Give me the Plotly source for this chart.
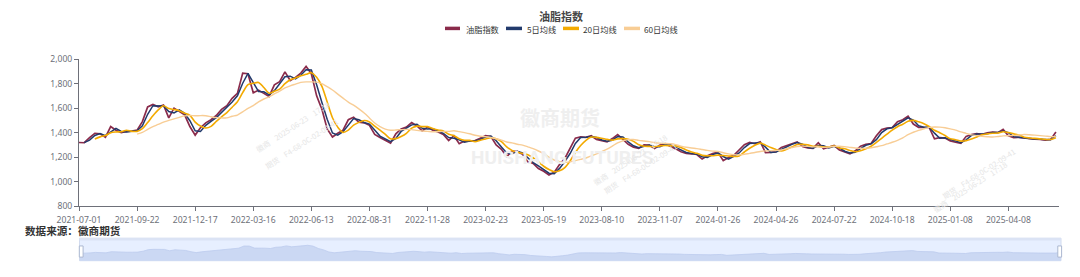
import pandas as pd
import plotly.graph_objects as go

# ---------------- data ----------------
TICK_DATES = ['2021-07-01', '2021-09-22', '2021-12-17', '2022-03-16', '2022-06-13',
              '2022-08-31', '2022-11-28', '2023-02-23', '2023-05-19', '2023-08-10',
              '2023-11-07', '2024-01-26', '2024-04-26', '2024-07-22', '2024-10-18',
              '2025-01-08', '2025-04-08']
END_DATE = '2025-06-20'

# 油脂指数, read roughly every 5 trading days
INDEX_VALUES = [
    1320, 1318, 1360, 1395, 1390, 1362, 1450, 1420, 1400, 1410, 1412,
    1420, 1490, 1610, 1630, 1610, 1625, 1520, 1600, 1570, 1545, 1450,
    1380, 1440, 1480, 1505, 1540, 1590, 1620, 1680, 1720, 1885, 1880,
    1725, 1745, 1720, 1695, 1790, 1815, 1895, 1825, 1850, 1885, 1940,
    1880, 1700, 1590, 1430, 1365, 1395, 1420, 1505, 1525, 1485, 1480,
    1460, 1385, 1360, 1340, 1315, 1390, 1430, 1445, 1482, 1455, 1415,
    1445, 1420, 1405, 1385, 1335, 1375, 1310, 1333, 1330, 1335, 1355,
    1375, 1368, 1300, 1265, 1205, 1250, 1245, 1225, 1162, 1150, 1108,
    1085, 1055, 1078, 1140, 1190, 1270, 1355, 1365, 1362, 1375, 1345,
    1335, 1325, 1352, 1385, 1345, 1305, 1282, 1272, 1300, 1298, 1272,
    1300, 1310, 1292, 1268, 1245, 1232, 1228, 1222, 1185, 1212, 1230,
    1240, 1172, 1198, 1215, 1255, 1302, 1320, 1310, 1326, 1238, 1240,
    1245, 1280, 1295, 1315, 1325, 1288, 1275, 1272, 1318, 1268, 1282,
    1295, 1258, 1240, 1228, 1252, 1290, 1305, 1312, 1375, 1425, 1438,
    1442, 1490, 1505, 1535, 1470, 1442, 1445, 1442, 1350, 1360, 1356,
    1333, 1322, 1313, 1370, 1385, 1392, 1386, 1398, 1404, 1400, 1426,
    1375, 1360, 1362, 1356, 1350, 1347, 1345, 1340, 1345, 1405,
]
Y_TICKS = [800, 1000, 1200, 1400, 1600, 1800, 2000]

SERIES_NAMES = ['油脂指数', '5日均线', '20日均线', '60日均线']
SERIES_COLORS = ['#8A2B4B', '#223A6C', '#F3AA00', '#F8CD95']

# sample dates: 11 samples between consecutive labelled dates, 10 in the tail
dates = []
for a, b in zip(TICK_DATES[:-1], TICK_DATES[1:]):
    bd = pd.bdate_range(a, b)
    for k in range(11):
        dates.append(bd[round(k * (len(bd) - 1) / 11)].strftime('%Y-%m-%d'))
bd = pd.bdate_range(TICK_DATES[-1], END_DATE)
for k in range(10):
    dates.append(bd[round(k * (len(bd) - 1) / 9)].strftime('%Y-%m-%d'))

s = pd.Series(INDEX_VALUES, index=dates, dtype=float)
ma5 = s.rolling(2).mean()
ma20 = s.rolling(4).mean()
ma60 = s.rolling(12).mean()

# ---------------- geometry helpers ----------------
PX_L, PX_R, PX_T, PX_B = 79, 1062, 59, 267
def fx(p):
    return (p - PX_L) / (PX_R - PX_L)
def fy(p):
    return (PX_B - p) / (PX_B - PX_T)

FONT = 'Noto Sans CJK SC, Noto Sans, sans-serif'
TICK_FONT = 'Noto Sans, Liberation Sans, sans-serif'
AX_COLOR = '#6E7079'

fig = go.Figure()
fig.add_trace(go.Scatter(x=dates, y=s.values, mode='lines', name=SERIES_NAMES[0],
                         line=dict(color=SERIES_COLORS[0], width=1.7)))
fig.add_trace(go.Scatter(x=dates, y=ma5.values, mode='lines', name=SERIES_NAMES[1],
                         line=dict(color=SERIES_COLORS[1], width=1.5)))
fig.add_trace(go.Scatter(x=dates, y=ma20.values, mode='lines', name=SERIES_NAMES[2],
                         line=dict(color=SERIES_COLORS[2], width=1.6, shape='spline', smoothing=0.8)))
fig.add_trace(go.Scatter(x=dates, y=ma60.values, mode='lines', name=SERIES_NAMES[3],
                         line=dict(color=SERIES_COLORS[3], width=1.4, shape='spline', smoothing=0.8)))
# data-zoom slider preview
fig.add_trace(go.Scatter(x=dates, y=s.values, mode='lines', xaxis='x2', yaxis='y2',
                         fill='tozeroy', fillcolor='#cbd8f3',
                         line=dict(color='#bccbee', width=0.8), hoverinfo='skip',
                         showlegend=False))

shapes = []
# slider frame
shapes.append(dict(type='rect', xref='paper', yref='paper', x0=fx(79.5), x1=fx(1061),
                   y0=fy(266.7), y1=fy(243.5), fillcolor='rgba(135,175,255,0.2)',
                   line=dict(color='#d2dbee', width=1), layer='below'))
shapes.append(dict(type='rect', xref='paper', yref='paper', x0=fx(79.5), x1=fx(1061),
                   y0=fy(246.0), y1=fy(243.5), fillcolor='#dbe3f5',
                   line=dict(width=0), layer='above'))
for x0 in (79.3, 1057.8):
    shapes.append(dict(type='rect', xref='paper', yref='paper', x0=fx(x0), x1=fx(x0 + 3.8),
                       y0=fy(263), y1=fy(251.5), fillcolor='#ffffff',
                       line=dict(color='#ACB8D1', width=1), layer='above'))
# manual legend icons
legend_icon_x = [(445, 460), (506, 522), (563, 579), (624, 640)]
for (a, b), c in zip(legend_icon_x, SERIES_COLORS):
    shapes.append(dict(type='line', xref='paper', yref='paper', x0=fx(a), x1=fx(b),
                       y0=fy(27.5), y1=fy(27.5), line=dict(color=c, width=3.5)))

annotations = []
annotations.append(dict(text='<b>油脂指数</b>', xref='paper', yref='paper', x=fx(560.5), y=fy(14.5),
                        xanchor='center', yanchor='middle', showarrow=False, borderpad=0,
                        font=dict(family=FONT, size=11, color='#464646')))
legend_text_x = [465, 526, 582, 643]
for tx, name in zip(legend_text_x, SERIES_NAMES):
    annotations.append(dict(text=name, xref='paper', yref='paper', x=fx(tx), y=fy(28),
                            xanchor='left', yanchor='middle', showarrow=False, borderpad=0,
                            font=dict(family=FONT, size=8.2, color='#333333')))
annotations.append(dict(text='<b>数据来源：徽商期货</b>', xref='paper', yref='paper', x=fx(24), y=fy(236),
                        xanchor='left', yanchor='middle', showarrow=False, borderpad=0,
                        font=dict(family=FONT, size=10.6, color='#333333')))
# watermarks
annotations.append(dict(text='<b>徽商期货</b>', xref='paper', yref='paper', x=fx(560), y=fy(119),
                        xanchor='center', yanchor='middle', showarrow=False,
                        font=dict(family=FONT, size=20, color='#efefef')))
annotations.append(dict(text='<b>HUISHANG FUTURES</b>', xref='paper', yref='paper', x=fx(562), y=fy(160),
                        xanchor='center', yanchor='middle', showarrow=False,
                        font=dict(family='Liberation Sans Narrow, Roboto, sans-serif', size=19, color='#efefef')))
for (cx1, cy1), (cx2, cy2) in [((251, 129), (260, 146)), ((630, 162), (640, 172)), ((1012, 190), (1020, 208))]:
    annotations.append(dict(text='徽商    2025-06-23    17:18', xref='paper', yref='paper',
                            x=fx(cx1), y=fy(cy1), showarrow=False, textangle=-33,
                            font=dict(family=FONT, size=7.5, color='#e6e6e6')))
    annotations.append(dict(text='期货    F4-68-0C-02-09-41', xref='paper', yref='paper',
                            x=fx(cx2), y=fy(cy2), showarrow=False, textangle=-33,
                            font=dict(family=FONT, size=7.5, color='#e6e6e6')))

fig.update_layout(
    width=1080, height=277,
    margin=dict(l=PX_L, r=1080 - PX_R, t=PX_T, b=277 - PX_B),
    paper_bgcolor='white', plot_bgcolor='white',
    showlegend=False,
    font=dict(family=FONT, color=AX_COLOR),
    xaxis=dict(type='category', domain=[0, fx(1059.3)], range=[0, len(dates) - 1 + 0.64],
               tickmode='array', tickvals=TICK_DATES, ticktext=TICK_DATES,
               showline=True, linecolor=AX_COLOR, linewidth=1, ticks='outside', ticklen=4,
               ticklabelstandoff=1,
               tickcolor=AX_COLOR, tickfont=dict(family=TICK_FONT, size=8.6, color=AX_COLOR),
               showgrid=False, zeroline=False, anchor='y'),
    yaxis=dict(domain=[fy(210.7), 1], range=[800, 2000], tickvals=Y_TICKS, tickformat=',',
               showline=True, linecolor=AX_COLOR, linewidth=1, ticks='outside', ticklen=4,
               tickcolor=AX_COLOR, tickfont=dict(family=TICK_FONT, size=8.6, color=AX_COLOR),
               showgrid=False, zeroline=False, anchor='x'),
    xaxis2=dict(type='category', domain=[fx(79.5), fx(1061)], range=[0, len(dates) - 1],
                visible=False, anchor='y2'),
    yaxis2=dict(domain=[fy(266.7), fy(243.5)], range=[760, 2486], visible=False, anchor='x2'),
    shapes=shapes, annotations=annotations,
)

fig.write_html('out.html')
